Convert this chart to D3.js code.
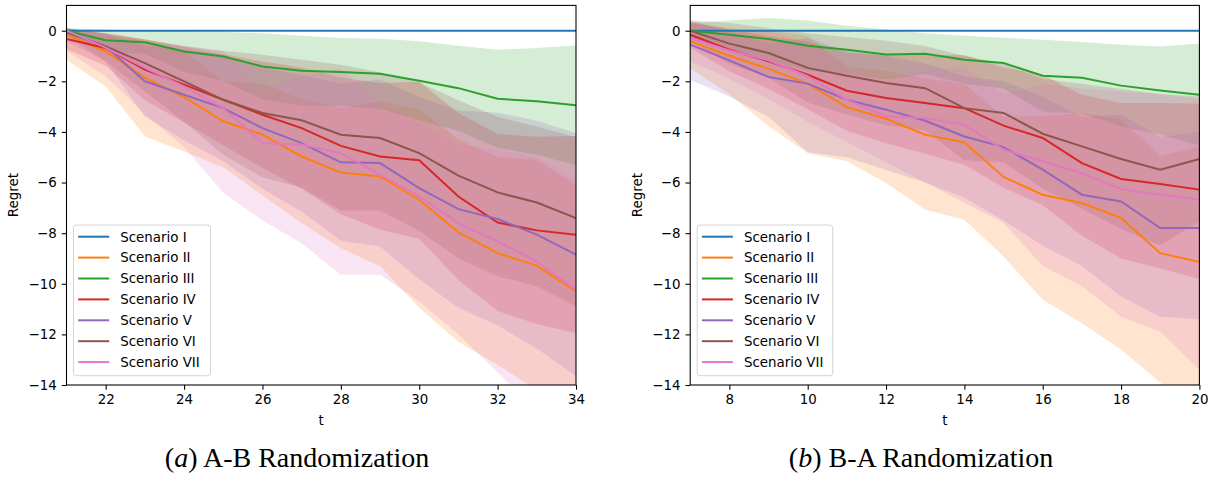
<!DOCTYPE html>
<html>
<head>
<meta charset="utf-8">
<script src="https://cdn.jsdelivr.net/npm/d3@7"></script>
<style>
body { margin: 0; background: #fff; }
text { font-family: "DejaVu Sans", sans-serif; }
</style>
</head>
<body>
<svg id="chart" width="1215" height="482"></svg>
<script>
var scenarios = ['Scenario I', 'Scenario II', 'Scenario III', 'Scenario IV', 'Scenario V', 'Scenario VI', 'Scenario VII'];
var colors = ['#1f77b4', '#ff7f0e', '#2ca02c', '#d62728', '#9467bd', '#8c564b', '#e377c2'];

// (a) A-B randomization, t = 21..34
var tA = [21, 22, 23, 24, 25, 26, 27, 28, 29, 30, 31, 32, 33, 34];
var meanA = [
	[0, 0, 0, 0, 0, 0, 0, 0, 0, 0, 0, 0, 0, 0],
	[-0.16, -0.82, -1.86, -2.62, -3.58, -4.11, -4.97, -5.6, -5.76, -6.68, -7.97, -8.79, -9.28, -10.3],
	[0, -0.38, -0.46, -0.82, -1.02, -1.41, -1.58, -1.63, -1.7, -1.98, -2.27, -2.69, -2.79, -2.95],
	[-0.33, -0.68, -1.54, -2.13, -2.73, -3.32, -3.85, -4.55, -4.97, -5.12, -6.55, -7.58, -7.89, -8.06],
	[-0.07, -0.62, -2.0, -2.53, -3.06, -3.85, -4.44, -5.2, -5.23, -6.22, -7.05, -7.44, -8.06, -8.85],
	[-0.05, -0.62, -1.28, -2.0, -2.73, -3.25, -3.54, -4.11, -4.24, -4.84, -5.73, -6.39, -6.79, -7.4],
	[0, -0.67, -1.47, -2.2, -3.06, -4.44, -4.5, -4.84, -5.69, -6.55, -7.6, -8.33, -9.12, -10.24]
];
var loA = [
	[0, 0, 0, 0, 0, 0, 0, 0, 0, 0, 0, 0, 0, 0],
	[-1.15, -2.2, -4.18, -4.77, -5.4, -6.5, -7.6, -8.6, -9.3, -10.95, -12.3, -13.2, -14.2, -15.2],
	[-0.1, -0.81, -0.92, -1.62, -1.99, -2.72, -2.96, -2.97, -3.08, -3.54, -3.95, -4.63, -4.9, -5.32],
	[-0.73, -1.38, -2.74, -3.63, -4.53, -5.42, -6.25, -7.25, -7.87, -8.22, -9.85, -11.08, -11.59, -11.96],
	[-0.42, -1.22, -3.4, -4.33, -5.16, -6.25, -7.14, -8.3, -8.53, -9.82, -10.95, -11.64, -12.56, -13.65],
	[-0.2, -1.2, -2.4, -3.6, -4.9, -5.8, -6.2, -7.1, -7.1, -7.9, -9.0, -9.7, -10.1, -10.9],
	[-0.8, -1.8, -3.3, -4.6, -6.4, -7.5, -8.4, -9.64, -9.64, -10.7, -12.0, -13.5, -15.0, -16.5]
];
var hiA = [
	[0, 0, 0, 0, 0, 0, 0, 0, 0, 0, 0, 0, 0, 0],
	[0.1, -0.15, -0.4, -0.8, -2.0, -2.1, -2.7, -3.05, -2.8, -3.1, -4.3, -5.0, -5.1, -6.1],
	[0.1, 0.05, 0.0, -0.02, -0.05, -0.1, -0.2, -0.29, -0.32, -0.42, -0.59, -0.75, -0.68, -0.58],
	[0.07, -0.1, -0.34, -0.63, -0.93, -1.22, -1.45, -1.85, -2.07, -2.02, -3.25, -4.08, -4.19, -4.16],
	[0.1, -0.12, -0.6, -0.73, -0.96, -1.45, -1.74, -2.1, -1.93, -2.62, -3.15, -3.24, -3.56, -4.05],
	[0.1, -0.1, -0.35, -0.6, -0.8, -0.95, -1.15, -1.35, -1.65, -2.05, -2.75, -3.4, -3.8, -4.2],
	[0.1, -0.15, -0.4, -0.6, -0.8, -2.3, -1.8, -1.5, -2.9, -3.65, -4.5, -4.7, -5.0, -5.86]
];

// (b) B-A randomization, t = 7..20
var tB = [7, 8, 9, 10, 11, 12, 13, 14, 15, 16, 17, 18, 19, 20];
var meanB = [
	[0, 0, 0, 0, 0, 0, 0, 0, 0, 0, 0, 0, 0, 0],
	[-0.42, -0.99, -1.51, -2.09, -3.02, -3.48, -4.11, -4.41, -5.78, -6.48, -6.81, -7.4, -8.79, -9.14],
	[0, -0.16, -0.33, -0.59, -0.75, -0.94, -0.91, -1.15, -1.28, -1.78, -1.86, -2.17, -2.36, -2.53],
	[-0.16, -0.75, -1.21, -1.74, -2.37, -2.66, -2.86, -3.06, -3.75, -4.24, -5.23, -5.86, -6.06, -6.28],
	[-0.55, -1.17, -1.83, -2.09, -2.73, -3.12, -3.56, -4.18, -4.6, -5.49, -6.48, -6.75, -7.8, -7.8],
	[0, -0.51, -0.88, -1.47, -1.78, -2.07, -2.27, -3.06, -3.25, -4.07, -4.57, -5.07, -5.49, -5.07],
	[-0.29, -0.78, -1.17, -1.8, -2.73, -3.39, -3.45, -3.72, -4.7, -5.16, -5.63, -6.26, -6.48, -6.68]
];
var loB = [
	[0, 0, 0, 0, 0, 0, 0, 0, 0, 0, 0, 0, 0, 0],
	[-1.5, -2.5, -3.78, -4.84, -5.16, -6.02, -7.07, -7.47, -8.92, -10.63, -11.56, -12.6, -13.9, -15.2],
	[-0.3, -0.72, -1.16, -1.58, -1.7, -1.93, -1.72, -2.1, -2.28, -3.2, -3.27, -3.79, -4.1, -4.55],
	[-0.66, -1.6, -2.3, -3.1, -3.95, -4.45, -4.86, -5.3, -6.2, -6.9, -8.1, -9.0, -9.4, -9.8],
	[-1.95, -2.6, -3.4, -4.8, -5.0, -5.5, -6.0, -6.6, -7.5, -8.5, -9.3, -10.5, -11.3, -11.4],
	[-0.4, -1.32, -1.86, -2.84, -3.31, -3.74, -3.94, -5.12, -5.2, -6.24, -7.04, -7.84, -8.48, -7.54],
	[-1.2, -1.9, -2.7, -3.6, -4.4, -5.2, -6.0, -6.8, -7.6, -9.3, -10.1, -11.3, -11.9, -13.4]
];
var hiB = [
	[0, 0, 0, 0, 0, 0, 0, 0, 0, 0, 0, 0, 0, 0],
	[0.3, 0.1, 0.0, -0.2, -1.42, -1.58, -1.89, -2.11, -3.42, -3.37, -3.25, -3.5, -4.96, -4.59],
	[0.3, 0.4, 0.5, 0.4, 0.2, 0.05, -0.1, -0.2, -0.28, -0.36, -0.45, -0.55, -0.62, -0.51],
	[0.34, 0.05, -0.21, -0.44, -0.87, -0.96, -0.96, -0.96, -1.45, -1.74, -2.53, -2.86, -2.86, -2.88],
	[0.4, -0.03, -0.5, -0.3, -0.8, -1.0, -1.3, -1.8, -2.0, -2.6, -3.4, -3.3, -4.2, -4.0],
	[0.4, 0.3, 0.1, -0.1, -0.25, -0.4, -0.6, -1.0, -1.3, -1.9, -2.1, -2.3, -2.5, -2.6],
	[0.3, 0.06, -0.02, -0.45, -1.48, -2.03, -1.54, -1.41, -2.52, -2.1, -2.28, -2.4, -2.5, -2.7]
];

var xTicksA = [22, 24, 26, 28, 30, 32, 34];
var xTicksB = [8, 10, 12, 14, 16, 18, 20];
var yTicks = [0, -2, -4, -6, -8, -10, -12, -14];
var captionLetters = ['a', 'b'];
var captionTexts = [' A-B Randomization', ' B-A Randomization'];

var panels = [
	{ t: tA, mean: meanA, lo: loA, hi: hiA, xTicks: xTicksA, left: 66.5, right: 576, labelX: 18, capX: 297 },
	{ t: tB, mean: meanB, lo: loB, hi: hiB, xTicks: xTicksB, left: 690.2, right: 1199.4, labelX: 642, capX: 921 }
];
var plot = { top: 5.4, bottom: 385 };
var fontSize = 13.4;

var svg = d3.select('#chart');

panels.forEach(function(p, k) {
	var x = d3.scaleLinear()
		.domain([p.t[0], p.t[p.t.length - 1]])
		.range([p.left, p.right]);
	var y = d3.scaleLinear()
		.domain([-14, 1])
		.range([plot.bottom, plot.top]);

	svg.append('clipPath').attr('id', 'clip' + k)
		.append('rect')
		.attr('x', p.left).attr('y', plot.top)
		.attr('width', p.right - p.left).attr('height', plot.bottom - plot.top);

	var g = svg.append('g').attr('clip-path', 'url(#clip' + k + ')');

	// bands first, then the lines on top (matplotlib zorder)
	scenarios.forEach(function(s, j) {
		var area = d3.area()
			.x(function(d, i) { return x(p.t[i]); })
			.y0(function(d, i) { return y(p.lo[j][i]); })
			.y1(function(d, i) { return y(p.hi[j][i]); });
		g.append('path')
			.datum(p.mean[j])
			.attr('d', area)
			.attr('fill', colors[j])
			.attr('fill-opacity', 0.2);
	});

	scenarios.forEach(function(s, j) {
		var line = d3.line()
			.x(function(d, i) { return x(p.t[i]); })
			.y(function(d) { return y(d); });
		g.append('path')
			.datum(p.mean[j])
			.attr('d', line)
			.attr('fill', 'none')
			.attr('stroke', colors[j])
			.attr('stroke-width', 2);
	});

	var xAxis = svg.append('g')
		.attr('transform', 'translate(0,' + plot.bottom + ')')
		.call(d3.axisBottom(x).tickValues(p.xTicks).tickSize(4.7).tickPadding(5).tickSizeOuter(0));
	var yAxis = svg.append('g')
		.attr('transform', 'translate(' + p.left + ',0)')
		.call(d3.axisLeft(y).tickValues(yTicks).tickSize(4.7).tickPadding(5).tickSizeOuter(0));
	[xAxis, yAxis].forEach(function(a) {
		a.select('.domain').remove();
		a.selectAll('text').attr('font-size', fontSize).attr('fill', '#000')
			.style('font-family', '"DejaVu Sans", sans-serif');
		a.selectAll('line').attr('stroke', '#000').attr('stroke-width', 1.07);
	});

	svg.append('rect')
		.attr('x', p.left).attr('y', plot.top)
		.attr('width', p.right - p.left).attr('height', plot.bottom - plot.top)
		.attr('fill', 'none').attr('stroke', '#000').attr('stroke-width', 1.07);

	svg.append('text')
		.attr('x', (p.left + p.right) / 2).attr('y', 425)
		.attr('text-anchor', 'middle').attr('font-size', fontSize)
		.text('t');
	svg.append('text')
		.attr('transform', 'translate(' + p.labelX + ',' + ((plot.top + plot.bottom) / 2) + ') rotate(-90)')
		.attr('text-anchor', 'middle').attr('font-size', fontSize)
		.text('Regret');

	// legend
	var lx = p.left + 7, ly = 225;
	var legend = svg.append('g');
	legend.append('rect')
		.attr('x', lx).attr('y', ly)
		.attr('width', k == 0 ? 137 : 135.5).attr('height', 150.7)
		.attr('rx', 3)
		.attr('fill', '#fff').attr('fill-opacity', 0.8)
		.attr('stroke', '#d4d4d4').attr('stroke-width', 1);
	scenarios.forEach(function(s, j) {
		var cy = ly + 11.7 + j * 20.9;
		legend.append('line')
			.attr('x1', lx + 4.7).attr('x2', lx + 35.7)
			.attr('y1', cy).attr('y2', cy)
			.attr('stroke', colors[j]).attr('stroke-width', 2);
		legend.append('text')
			.attr('x', lx + 46.7).attr('y', cy)
			.attr('dy', '0.36em')
			.attr('font-size', fontSize)
			.text(s);
	});

	var cap = svg.append('text')
		.attr('x', p.capX).attr('y', 467)
		.attr('text-anchor', 'middle')
		.attr('font-size', 28)
		.style('font-family', '"Liberation Serif", serif');
	cap.append('tspan').text('(');
	cap.append('tspan').attr('font-style', 'italic').text(captionLetters[k]);
	cap.append('tspan').text(')' + captionTexts[k]);
});
</script>
</body>
</html>
